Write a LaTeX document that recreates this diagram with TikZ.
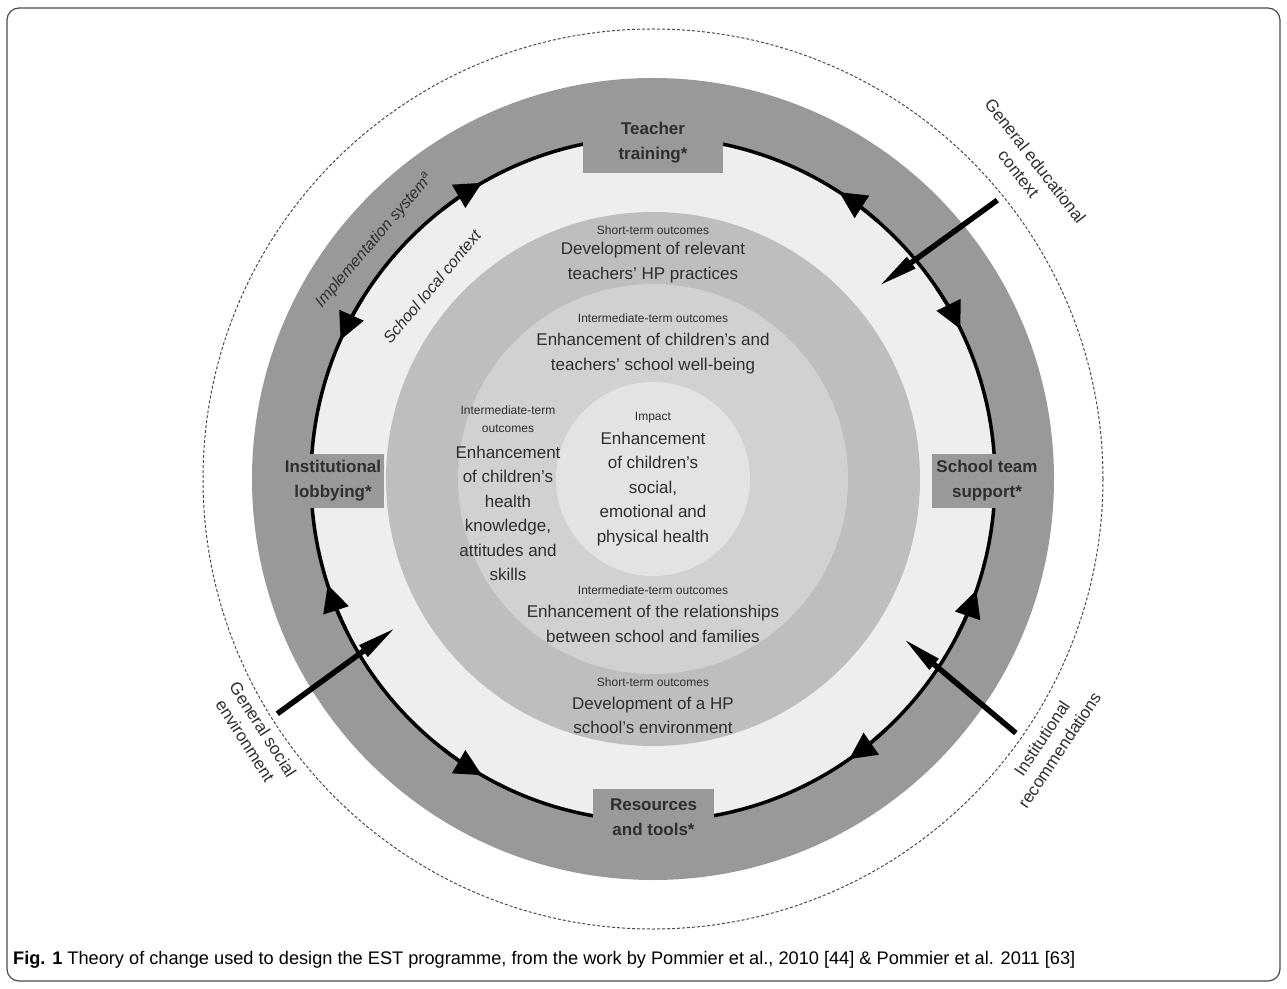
\documentclass[tikz,border=0pt]{standalone}
\usepackage{fontspec}
\setmainfont{Liberation Sans}
\usetikzlibrary{arrows.meta,positioning}

\definecolor{ringdark}{HTML}{999999}
\definecolor{ringlight}{HTML}{EEEEEE}
\definecolor{ringmid}{HTML}{BEBEBE}
\definecolor{ringpale}{HTML}{D1D1D1}
\definecolor{ringcore}{HTML}{E3E3E3}
\definecolor{txtgrey}{HTML}{2E2E2E}
\definecolor{framegrey}{HTML}{4A4A4A}

\begin{document}
\begin{tikzpicture}[x=1pt,y=1pt,
    stagebox/.style={fill=ringdark, inner sep=0pt, align=center, text=txtgrey,
        font=\fontsize{17}{25}\selectfont\bfseries},
    headtxt/.style={align=center, text=txtgrey, font=\fontsize{12}{18}\selectfont},
    bodytxt/.style={align=center, text=txtgrey, font=\fontsize{17}{24.5}\selectfont},
    sidetxt/.style={align=center, text=txtgrey, font=\fontsize{17}{21}\selectfont},
    slanttxt/.style={text=txtgrey, font=\fontsize{16}{20}\selectfont\itshape},
    looparrow/.style={line width=3.5pt, -{Triangle[length=27pt,width=26pt]}},
    pusharrow/.style={line width=5.5pt, -{Triangle[length=40pt,width=13pt]}}]
\useasboundingbox (-653,-509) rectangle (634,479);
\draw[line width=1.2pt, draw=framegrey, rounded corners=12pt] (-646,471) rectangle (627,-502);

% rings
\fill[ringdark] (0,0) circle (401);
\fill[ringlight] (0,0) circle (342);
\fill[ringmid] (0,0) circle (267);
\fill[ringpale] (0,0) circle (195);
\fill[ringcore] (0,0) circle (97);
\draw[line width=1pt, dash pattern=on 3pt off 2pt, draw=framegrey] (0,0) circle (450);

% loop with arrows
\draw[line width=3.5pt] (0,0) circle (342);
\foreach \a/\b in {128/120, 148/156, 49/57, 34/26, 333/341, 313/305, 206/198, 232/240}
{
\draw[looparrow] (\a:342) arc[start angle=\a, end angle=\b, radius=342];
}

% outside influences
\foreach \n/\a/\b in {edu/39/40.5, soc/212/210, rec/325/327.5}
{
\coordinate (\n Out) at (\a:443);
\coordinate (\n In) at (\b:297);
\draw[pusharrow] (\n Out) -- (\n In);
}

% stages
\node[stagebox, minimum width=139pt, minimum height=60pt] (teacher) at (0,336) {Teacher\\training*};
\node[stagebox, minimum width=102pt, minimum height=54pt] (lobby) at (-320,-2) {Institutional\\lobbying*};
\node[stagebox, minimum width=110pt, minimum height=54pt] (team) at (334,-2) {School team\\support*};
\node[stagebox, minimum width=121pt, minimum height=56pt] (tools) at (0.5,-338) {Resources\\and tools*};

% outcomes
\node[headtxt] (stTopHd) at (0,249) {Short-term outcomes};
\node[bodytxt] (stTop) at (0,216.5) {Development of relevant\\teachers' HP practices};
\node[headtxt] (imTopHd) at (0,161) {Intermediate-term outcomes};
\node[bodytxt] (imTop) at (0,125.5) {Enhancement of children's and\\teachers' school well-being};
\node[headtxt] (imLeftHd) at (-145,60) {Intermediate-term\\outcomes};
\node[bodytxt] (imLeft) at (-145,-34.5) {Enhancement\\of children's\\health\\knowledge,\\attitudes and\\skills};
\node[headtxt] (impactHd) at (0,61) {Impact};
\node[bodytxt] (impact) at (0,-10) {Enhancement\\of children's\\social,\\emotional and\\physical health};
\node[headtxt] (imLowHd) at (0,-111) {Intermediate-term outcomes};
\node[bodytxt] (imLow) at (0,-145) {Enhancement of the relationships\\between school and families};
\node[headtxt] (stLowHd) at (0,-203) {Short-term outcomes};
\node[bodytxt] (stLow) at (0,-236.5) {Development of a HP\\school's environment};

% context labels
\node[slanttxt, rotate=49.4] (implLbl) at (139.4:367) {Implementation system\textsuperscript{a}};
\node[slanttxt, rotate=50] (localLbl) at (139:293) {School local context};
\node[sidetxt, rotate=-52] (eduLbl) at (39.8:487) {General educational\\context};
\node[sidetxt, rotate=-57.3] (socLbl) at (212.7:474) {General social\\environment};
\node[sidetxt, rotate=56.3] (recLbl) at (326.3:478) {Institutional\\recommendations};

\node[anchor=base west, inner sep=0pt, font=\fontsize{18.2}{22}\selectfont] (cap) at (-640,-485)
  {\textbf{Fig. 1} Theory of change used to design the EST programme, from the work by Pommier et al., 2010 [44] \& Pommier et al. 2011 [63]};
\end{tikzpicture}
\end{document}
